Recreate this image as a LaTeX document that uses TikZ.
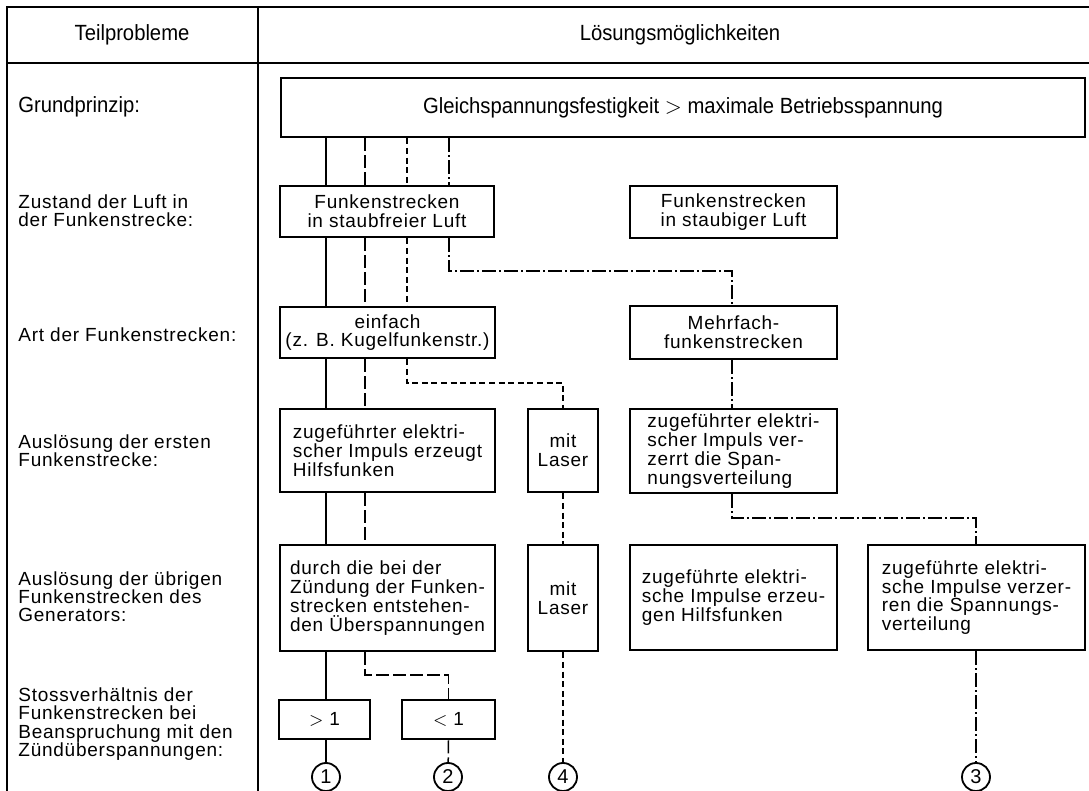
\documentclass[tikz,border=0pt]{standalone}
\usepackage{fontspec}
\setmainfont{Liberation Sans}[LetterSpace=4]
\newfontfamily\kopffont{Liberation Sans}[FakeStretch=0.92]
\usepackage{tikz}

\begin{document}
\begin{tikzpicture}[x=0.5pt,y=-0.5pt]
\tikzstyle{kasten}=[draw,line width=1.4pt,inner sep=0pt,align=center,font=\fontsize{9.5}{9.4}\selectfont]
\tikzstyle{kastenl}=[kasten,align=left]
\tikzstyle{zeile}=[anchor=west,align=left,inner sep=0pt,font=\fontsize{9.5}{9.1}\selectfont]
\tikzstyle{kopf}=[inner sep=0pt,font=\kopffont\fontsize{11}{12}\selectfont]
\tikzstyle{ende}=[circle,draw,line width=0.9pt,minimum size=14pt,inner sep=0pt,font=\fontsize{10}{10}\selectfont]
\tikzstyle{linie}=[line width=0.75pt]
\tikzstyle{lang}=[linie,dash pattern=on 6.5pt off 2pt]
\tikzstyle{kurz}=[linie,dash pattern=on 3pt off 1.8pt]
\tikzstyle{strichpunkt}=[linie,dash pattern=on 7pt off 1.5pt on 1pt off 1.5pt]
\tikzstyle{rahmen}=[line width=1.2pt]
\useasboundingbox (0,0) rectangle (1089,791);

% Tabellenrahmen
\draw[rahmen] (7,791) -- (7,7) -- (1089,7);
\draw[rahmen] (7,63) -- (1089,63);
\draw[rahmen] (258,7) -- (258,791);

% Kopfzeile und Teilprobleme
\node[kopf] (T_kopf) at (132,35) {Teilprobleme};
\node[kopf] (L_kopf) at (680,35) {Lösungsmöglichkeiten};
\node[kopf,anchor=west] (T_1) at (18,107) {Grundprinzip:};
\node[zeile] (T_2) at (18,211) {Zustand der Luft in\\der Funkenstrecke:};
\node[zeile] (T_3) at (18,335) {Art der Funkenstrecken:};
\node[zeile] (T_4) at (18,451) {Auslösung der ersten\\Funkenstrecke:};
\node[zeile] (T_5) at (18,597) {Auslösung der übrigen\\Funkenstrecken des\\Generators:};
\node[zeile] (T_6) at (18,724) {Stossverhältnis der\\Funkenstrecken bei\\Beanspruchung mit den\\Zündüberspannungen:};

% Kaesten
\node[kasten,minimum width=402pt,minimum height=29.5pt,font=\kopffont\fontsize{11}{12}\selectfont] (grund) at (683,107.5) {Gleichspannungsfestigkeit $>$ maximale Betriebsspannung};
\node[kasten,minimum width=107pt,minimum height=25.5pt] (frei) at (387,211.5) {Funkenstrecken\\in staubfreier Luft};
\node[kasten,minimum width=103.5pt,minimum height=26pt] (staub) at (733.5,212) {Funkenstrecken\\in staubiger Luft};
\node[kasten,minimum width=107.5pt,minimum height=25.5pt] (einfach) at (387.5,332.5) {einfach\\(z. B. Kugelfunkenstr.)};
\node[kasten,minimum width=103.5pt,minimum height=26.5pt] (mehr) at (733.5,332.5) {Mehrfach-\\funkenstrecken};
\node[kastenl,minimum width=107.5pt,minimum height=41.5pt] (zugA) at (387.5,450.5) {zugeführter elektri-\\scher Impuls erzeugt\\Hilfsfunken};
\node[kasten,minimum width=35pt,minimum height=41.5pt] (laserA) at (563,450.5) {mit\\Laser};
\node[kastenl,minimum width=103.5pt,minimum height=42pt] (zugB) at (733.5,451) {zugeführter elektri-\\scher Impuls ver-\\zerrt die Span-\\nungsverteilung};
\node[kastenl,minimum width=107.5pt,minimum height=53pt] (durch) at (387.5,598) {durch die bei der\\Zündung der Funken-\\strecken entstehen-\\den Überspannungen};
\node[kasten,minimum width=35pt,minimum height=53pt] (laserB) at (563,598) {mit\\Laser};
\node[kastenl,minimum width=103.5pt,minimum height=52.5pt] (hilfs) at (733.5,597.5) {zugeführte elektri-\\sche Impulse erzeu-\\gen Hilfsfunken};
\node[kastenl,minimum width=108.5pt,minimum height=52.5pt] (verz) at (976.5,597.5) {zugeführte elektri-\\sche Impulse verzer-\\ren die Spannungs-\\verteilung};
\node[kasten,minimum width=45.5pt,minimum height=19.5pt] (gross) at (324.5,719.5) {$>$ 1};
\node[kasten,minimum width=46.5pt,minimum height=19.5pt] (klein) at (448.5,719.5) {$<$ 1};

% Endpunkte
\node[ende] (E_1) at (326,777) {1};
\node[ende] (E_2) at (448,777) {2};
\node[ende] (E_4) at (563,777) {4};
\node[ende] (E_3) at (976,777) {3};

% Spuren
\coordinate (x1) at (326,0);
\coordinate (x2) at (365,0);
\coordinate (x3) at (407,0);
\coordinate (x4) at (449,0);
\coordinate (K_2) at (365,675);
\coordinate (K_3) at (407,383);
\coordinate (K_4) at (449,271);
\coordinate (K_5) at (732,518);

\draw[linie] (grund.south -| x1) -- (frei.north -| x1);
\draw[linie] (frei.south -| x1) -- (einfach.north -| x1);
\draw[linie] (einfach.south -| x1) -- (zugA.north -| x1);
\draw[linie] (zugA.south -| x1) -- (durch.north -| x1);
\draw[linie] (durch.south -| x1) -- (gross.north -| x1);
\draw[linie] (gross.south -| x1) -- (E_1);

\draw[lang] (grund.south -| x2) -- (frei.north -| x2);
\draw[lang] (frei.south -| x2) -- (einfach.north -| x2);
\draw[lang] (einfach.south -| x2) -- (zugA.north -| x2);
\draw[lang] (zugA.south -| x2) -- (durch.north -| x2);
\draw[lang] (durch.south -| x2) -- (K_2) -| (klein.north);
\draw[lang] (klein.south) -- (E_2);

\draw[kurz] (grund.south -| x3) -- (frei.north -| x3);
\draw[kurz] (frei.south -| x3) -- (einfach.north -| x3);
\draw[kurz] (einfach.south -| x3) -- (K_3) -| (laserA.north);
\draw[kurz] (laserA.south) -- (laserB.north);
\draw[kurz] (laserB.south) -- (E_4);

\draw[strichpunkt] (grund.south -| x4) -- (frei.north -| x4);
\draw[strichpunkt] (frei.south -| x4) -- (K_4) -| (mehr.north -| K_5);
\draw[strichpunkt] (mehr.south -| K_5) -- (zugB.north -| K_5);
\draw[strichpunkt] (zugB.south -| K_5) -- (K_5) -| (verz.north -| E_3);
\draw[strichpunkt] (verz.south -| E_3) -- (E_3);
\end{tikzpicture}
\end{document}
